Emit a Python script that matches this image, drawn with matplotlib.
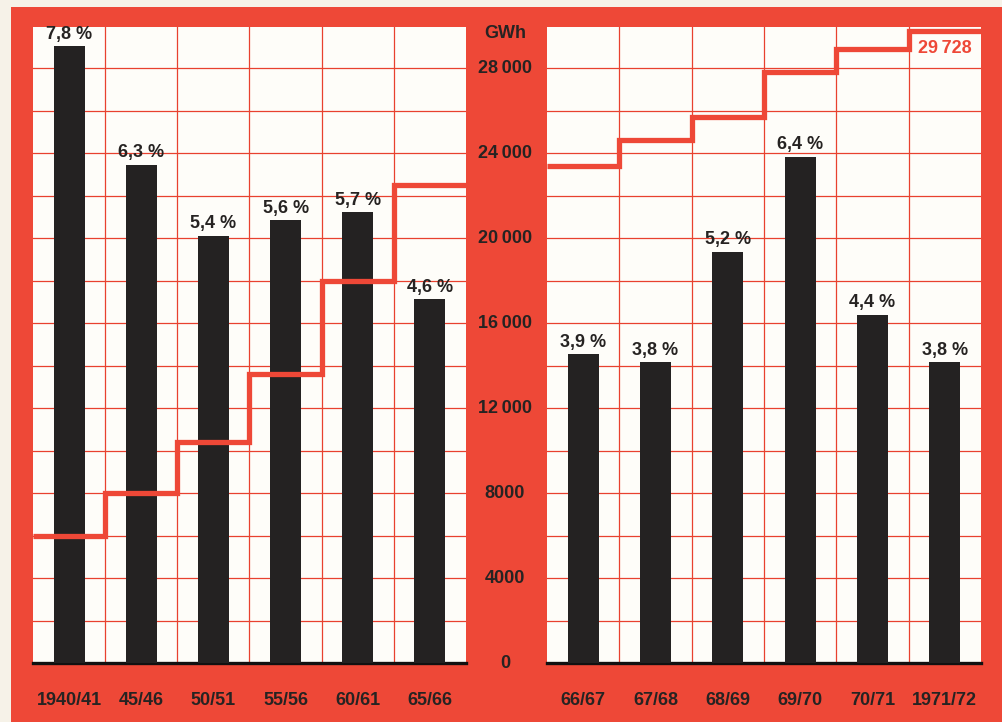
import matplotlib.pyplot as plt
import numpy as np
from matplotlib.patches import Rectangle

plt.rcParams['font.family'] = ['Liberation Sans', 'DejaVu Sans']

# Data
left_years = ['1940/41', '45/46', '50/51', '55/56', '60/61', '65/66']
left_growth = [7.8, 6.3, 5.4, 5.6, 5.7, 4.6]          # Zuwachs in %
left_gwh = [6000, 8000, 10400, 13600, 18000, 22500]   # Verbrauch GWh

right_years = ['66/67', '67/68', '68/69', '69/70', '70/71', '1971/72']
right_growth = [3.9, 3.8, 5.2, 6.4, 4.4, 3.8]
right_gwh = [23400, 24600, 25700, 27800, 28900, 29728]

gwh_ticks = [0, 4000, 8000, 12000, 16000, 20000, 24000, 28000]

RED = '#ee4837'
GRID = '#e8412f'
BAR = '#242222'
INK = '#262322'
PAPER = '#fefdf9'
CREAM = '#f6f2e8'

GWH_TOP = 29930
PCT_TOP = 8.04

W, H = 1002, 722
fig = plt.figure(figsize=(W / 100, H / 100), dpi=100)
fig.patch.set_facecolor(RED)
# untrimmed paper edge, left and top
fig.patches.append(Rectangle((0, 0), 11 / W, 1, transform=fig.transFigure,
                             facecolor=CREAM, edgecolor='none'))
fig.patches.append(Rectangle((0, 1 - 7 / H), 1, 7 / H, transform=fig.transFigure,
                             facecolor=CREAM, edgecolor='none'))


def fmt(v):
    s = f'{v:,}'.replace(',', '\u2009')
    return s if v >= 10000 else str(v)


def panel(x0, x1, years, growth, gwh):
    bottom, top = 663, 27
    ax = fig.add_axes([x0 / W, 1 - bottom / H, (x1 - x0) / W, (bottom - top) / H])
    ax.set_facecolor(PAPER)
    ax.set_xlim(-0.5, 5.5)
    ax.set_ylim(0, GWH_TOP)
    for y in range(2000, 29000, 2000):
        ax.axhline(y, color=GRID, lw=0.9, zorder=0)
    for x in np.arange(0.5, 5, 1):
        ax.axvline(x, color=GRID, lw=0.9, zorder=0)
    for s in ['top', 'left', 'right']:
        ax.spines[s].set_visible(False)
    ax.spines['bottom'].set_color('#111')
    ax.spines['bottom'].set_linewidth(2.4)
    ax.set_yticks([])
    ax.set_xticks(range(len(years)))
    ax.set_xticklabels(years, fontsize=13, fontweight='bold', color=INK)
    ax.tick_params(axis='x', length=0, pad=21)

    # bars on a percent scale
    pax = ax.twinx()
    pax.set_ylim(0, PCT_TOP)
    pax.axis('off')
    pax.bar(range(len(growth)), growth, width=0.43, color=BAR)
    for i, g in enumerate(growth):
        pax.annotate(f'{g:.1f} %'.replace('.', ','), (i, g), xytext=(0, 2.5),
                     textcoords='offset points', ha='center', va='bottom',
                     fontsize=13, fontweight='bold', color=INK)

    # consumption step line on top
    lax = ax.twinx()
    lax.set_ylim(0, GWH_TOP)
    lax.set_xlim(-0.5, 5.5)
    lax.axis('off')
    lax.stairs(gwh, np.arange(-0.5, 6, 1), baseline=None, color=RED, lw=3.8,
               joinstyle='miter')
    return ax, lax


axL, _ = panel(33, 466, left_years, left_growth, left_gwh)
axR, laxR = panel(547, 981, right_years, right_growth, right_gwh)

# GWh scale in the gap between the panels
tr = axL.get_yaxis_transform()
xc = (505 - 33) / (466 - 33)
for t in gwh_ticks:
    axL.text(xc, t, fmt(t), transform=tr, ha='center', va='center',
             fontsize=13, fontweight='bold', color=INK, clip_on=False)
fig.text(505 / W, 1 - 34 / H, 'GWh', ha='center', va='center',
         fontsize=13, fontweight='bold', color=INK)

laxR.annotate(fmt(right_gwh[-1]), (5, right_gwh[-1]), xytext=(0, -6),
              textcoords='offset points', ha='center', va='top',
              fontsize=13, fontweight='bold', color=RED)

fig.savefig('out.png', dpi=100, facecolor=fig.get_facecolor())
